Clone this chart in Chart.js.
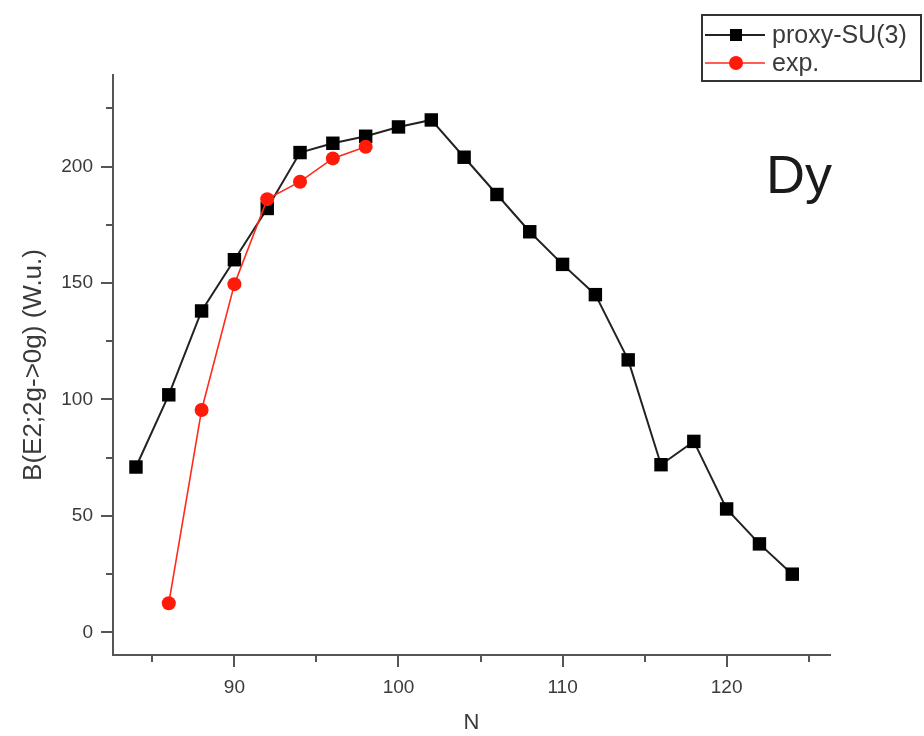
<!DOCTYPE html>
<html>
<head>
<meta charset="utf-8">
<script src="https://cdn.jsdelivr.net/npm/chart.js@4/dist/chart.umd.min.js"></script>
<style>
    html, body { margin: 0; padding: 0; background: #ffffff; }
    #wrap { width: 924px; height: 736px; position: relative; }
</style>
</head>
<body>
<div id="wrap"><canvas id="chart1"></canvas></div>
<script>
// data
const nProxy = [84, 86, 88, 90, 92, 94, 96, 98, 100, 102, 104, 106, 108, 110, 112, 114, 116, 118, 120, 122, 124];
const bProxy = [71, 102, 138, 160, 182, 206, 210, 213, 217, 220, 204, 188, 172, 158, 145, 117, 72, 82, 53, 38, 25];
const nExp = [86, 88, 90, 92, 94, 96, 98];
const bExp = [12.5, 95.5, 149.5, 186, 193.5, 203.5, 208.5];

const xTicks = [90, 100, 110, 120];
const xMinor = [85, 95, 105, 115, 125];
const yTicks = [0, 50, 100, 150, 200];
const yMinor = [25, 75, 125, 175, 225];

const seriesNames = ['proxy-SU(3)', 'exp.'];
const nucleus = 'Dy';

const FONT = '"Liberation Sans", Arial, sans-serif';
const AXIS_CL = '#555555';
const TEXT_CL = '#3a3a3a';

function toPoints(xs, ys){
    return xs.map((x, i) => ({x: x, y: ys[i]}));
}

// 눈금(주/보조) 그리기
const tickMarks = {
    id: 'tickMarks',
    afterDraw(chart){
        const ctx = chart.ctx;
        const xs = chart.scales.x;
        const ys = chart.scales.y;
        const area = chart.chartArea;
        ctx.save();
        ctx.strokeStyle = AXIS_CL;
        ctx.lineWidth = 2;
        ctx.beginPath();
        xTicks.concat(xMinor).forEach((v) => {
            const len = xTicks.includes(v) ? 12 : 7;
            const px = Math.round(xs.getPixelForValue(v));
            ctx.moveTo(px, area.bottom);
            ctx.lineTo(px, area.bottom + len);
        });
        yTicks.concat(yMinor).forEach((v) => {
            const len = yTicks.includes(v) ? 12 : 7;
            const py = Math.round(ys.getPixelForValue(v));
            ctx.moveTo(area.left, py);
            ctx.lineTo(area.left - len, py);
        });
        ctx.stroke();
        ctx.restore();
    }
};

// 범례 박스 + 원소 기호
const boxLegend = {
    id: 'boxLegend',
    afterDraw(chart){
        const ctx = chart.ctx;
        ctx.save();
        ctx.strokeStyle = '#333333';
        ctx.lineWidth = 2;
        ctx.strokeRect(702, 15, 219, 66);

        const rows = [35, 63];
        chart.data.datasets.forEach((ds, i) => {
            const y = rows[i];
            ctx.strokeStyle = ds.borderColor;
            ctx.lineWidth = ds.borderWidth;
            ctx.beginPath();
            ctx.moveTo(705, y);
            ctx.lineTo(765, y);
            ctx.stroke();
            ctx.fillStyle = ds.pointBackgroundColor;
            ctx.beginPath();
            if (ds.pointStyle === 'rect'){
                ctx.rect(730, y - 6, 12, 12);
            } else {
                ctx.arc(736, y, 7, 0, Math.PI * 2);
            }
            ctx.fill();
            ctx.fillStyle = TEXT_CL;
            ctx.font = '25px ' + FONT;
            ctx.textBaseline = 'middle';
            ctx.textAlign = 'left';
            ctx.fillText(ds.label, 772, y + 1);
        });

        ctx.fillStyle = '#1a1a1a';
        ctx.font = '54px ' + FONT;
        ctx.textBaseline = 'alphabetic';
        ctx.fillText(nucleus, 766, 193);
        ctx.restore();
    }
};

const ctx = document.getElementById('chart1').getContext('2d');
const chart1 = new Chart(ctx, {
    type: 'line',
    data: {
        datasets: [
            {
                label: seriesNames[0],
                data: toPoints(nProxy, bProxy),
                borderColor: '#222222',
                backgroundColor: '#000000',
                pointBackgroundColor: '#000000',
                pointBorderColor: '#000000',
                pointStyle: 'rect',
                pointRadius: 9.5,
                pointBorderWidth: 0,
                borderWidth: 2,
                tension: 0,
                order: 1
            },
            {
                label: seriesNames[1],
                data: toPoints(nExp, bExp),
                borderColor: '#ff2a1a',
                backgroundColor: '#ff1a0a',
                pointBackgroundColor: '#ff1a0a',
                pointBorderColor: '#ff1a0a',
                pointStyle: 'circle',
                pointRadius: 7,
                pointBorderWidth: 0,
                borderWidth: 1.6,
                tension: 0,
                order: 0
            }
        ]
    },
    options: {
        responsive: true,
        maintainAspectRatio: false,
        animation: false,
        devicePixelRatio: 1,
        layout: {
            padding: { top: 75, right: 94, left: 0, bottom: 0 }
        },
        scales: {
            x: {
                type: 'linear',
                min: 82.6,
                max: 126.3,
                afterBuildTicks: (scale) => { scale.ticks = xTicks.map((v) => ({value: v})); },
                afterFit: (scale) => { scale.height = 81; },
                grid: { display: true, drawOnChartArea: false, drawTicks: false },
                border: { display: true, color: AXIS_CL, width: 2 },
                ticks: {
                    color: TEXT_CL,
                    padding: 21,
                    maxRotation: 0,
                    font: { family: FONT, size: 19 }
                },
                title: {
                    display: true,
                    text: 'N',
                    color: TEXT_CL,
                    padding: { top: 0, bottom: 0 },
                    font: { family: FONT, size: 22 }
                }
            },
            y: {
                type: 'linear',
                min: -9.7,
                max: 239.3,
                afterBuildTicks: (scale) => { scale.ticks = yTicks.map((v) => ({value: v})); },
                afterFit: (scale) => { scale.width = 113; },
                grid: { display: true, drawOnChartArea: false, drawTicks: false },
                border: { display: true, color: AXIS_CL, width: 2 },
                ticks: {
                    color: TEXT_CL,
                    padding: 20,
                    font: { family: FONT, size: 19 }
                },
                title: {
                    display: true,
                    text: 'B(E2;2g->0g) (W.u.)',
                    color: TEXT_CL,
                    padding: { top: 18, bottom: 0 },
                    font: { family: FONT, size: 26 }
                }
            }
        },
        plugins: {
            legend: { display: false },
            tooltip: { enabled: false }
        }
    },
    plugins: [tickMarks, boxLegend]
});
</script>
</body>
</html>
